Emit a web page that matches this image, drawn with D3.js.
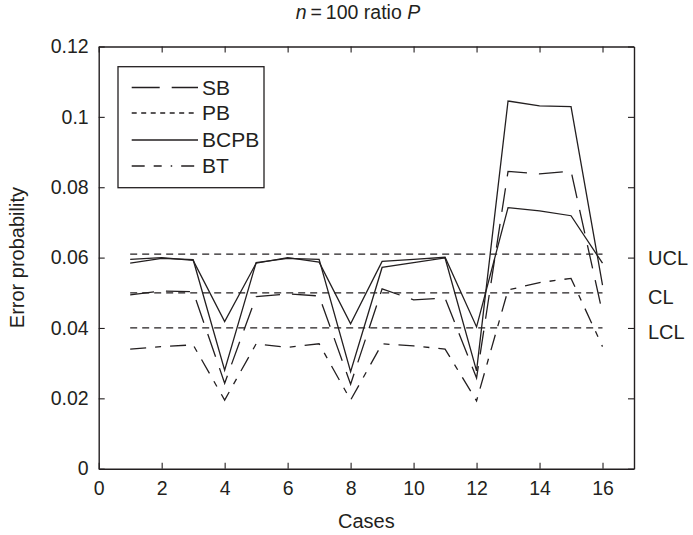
<!DOCTYPE html>
<html>
<head>
<meta charset="utf-8">
<script src="https://cdn.jsdelivr.net/npm/d3@7"></script>
<style>
  body { margin: 0; background: #fff; }
  text { font-family: "Liberation Sans", Arial, sans-serif; fill: #231f20; }
</style>
</head>
<body>
<div id="chart"></div>
<script>
// data
var cases = [1, 2, 3, 4, 5, 6, 7, 8, 9, 10, 11, 12, 13, 14, 15, 16];
var sb   = [0.0494, 0.0505, 0.0503, 0.0243, 0.0489, 0.0497, 0.0491, 0.0240, 0.0511, 0.0480, 0.0485, 0.0258, 0.0845, 0.0838, 0.0846, 0.0442];
var pb   = [0.0595, 0.0600, 0.0592, 0.0418, 0.0584, 0.0600, 0.0587, 0.0412, 0.0589, 0.0595, 0.0601, 0.0403, 0.0742, 0.0733, 0.0719, 0.0584];
var bcpb = [0.0584, 0.0598, 0.0594, 0.0280, 0.0586, 0.0598, 0.0595, 0.0276, 0.0572, 0.0586, 0.0599, 0.0278, 0.1045, 0.1031, 0.1029, 0.0522];
var bt   = [0.0340, 0.0347, 0.0352, 0.0195, 0.0355, 0.0345, 0.0355, 0.0195, 0.0355, 0.0349, 0.0340, 0.0193, 0.0508, 0.0529, 0.0541, 0.0347];
var seriesNames = ["SB", "PB", "BCPB", "BT"];
var limitNames = ["UCL", "CL", "LCL"];
var limitValues = [0.061, 0.05, 0.04];
var xTicks = [0, 2, 4, 6, 8, 10, 12, 14, 16];
var yTicks = [0, 0.02, 0.04, 0.06, 0.08, 0.1, 0.12];

var W = 693, H = 535;
var mLeft = 98.7, mRight = 634, mTop = 46.5, mBottom = 468.7;
var ink = "#231f20";

var svg = d3.select("#chart").append("svg")
  .attr("width", W)
  .attr("height", H);

var x = d3.scaleLinear().domain([0, 17]).range([mLeft, mRight]);
var y = d3.scaleLinear().domain([0, 0.12]).range([mBottom, mTop]);

// dash styles (PB is drawn solid in the plot, dashed in the legend - as in the figure)
var plotDash = { SB: "24,12", PB: null, BCPB: null, BT: "16,9,6,9" };
var legendDash = { SB: "28,12", PB: "5,4.5", BCPB: null, BT: "13,9,8,9,1.5,9" };
var values = { SB: sb, PB: pb, BCPB: bcpb, BT: bt };

// axes, ticks inward
var fmt = function(d) { return d === 0 ? "0" : String(+d.toFixed(2)); };
function styleAxis(g) {
  g.select(".domain").attr("stroke", ink).attr("stroke-width", 1.4);
  g.selectAll(".tick line").attr("stroke", ink).attr("stroke-width", 1.1);
  g.selectAll(".tick text").attr("font-size", 19.5).attr("fill", ink)
    .attr("font-family", "Liberation Sans, Arial, sans-serif");
}
svg.append("g")
  .attr("transform", "translate(0," + mBottom + ")")
  .call(d3.axisBottom(x).tickValues(xTicks).tickSizeInner(-6).tickSizeOuter(0).tickPadding(12).tickFormat(fmt))
  .call(styleAxis);
svg.append("g")
  .attr("transform", "translate(0," + mTop + ")")
  .call(d3.axisTop(x).tickValues(xTicks).tickSizeInner(-6).tickSizeOuter(0).tickFormat(""))
  .call(styleAxis);
svg.append("g")
  .attr("transform", "translate(" + mLeft + ",0)")
  .call(d3.axisLeft(y).tickValues(yTicks).tickSizeInner(-6).tickSizeOuter(0).tickPadding(10).tickFormat(fmt))
  .call(styleAxis);
svg.append("g")
  .attr("transform", "translate(" + mRight + ",0)")
  .call(d3.axisRight(y).tickValues(yTicks).tickSizeInner(-6).tickSizeOuter(0).tickFormat(""))
  .call(styleAxis);

// control limits
svg.selectAll(".limit")
  .data(limitValues)
  .enter().append("line")
  .attr("class", "limit")
  .attr("x1", x(cases[0]))
  .attr("x2", x(cases[cases.length - 1]))
  .attr("y1", function(d) { return y(d); })
  .attr("y2", function(d) { return y(d); })
  .attr("stroke", ink)
  .attr("stroke-width", 1.2)
  .attr("stroke-dasharray", "7,5");

svg.selectAll(".limitLabel")
  .data(limitValues)
  .enter().append("text")
  .attr("x", 648)
  .attr("y", function(d) { return y(d) + 4; })
  .attr("dy", "0.35em")
  .attr("font-size", 20)
  .text(function(d, i) { return limitNames[i]; });

// series lines
var line = d3.line()
  .x(function(d, i) { return x(cases[i]); })
  .y(function(d) { return y(d); });

svg.selectAll(".series")
  .data(seriesNames)
  .enter().append("path")
  .attr("class", "series")
  .attr("d", function(name) { return line(values[name]); })
  .attr("fill", "none")
  .attr("stroke", ink)
  .attr("stroke-width", 1.3)
  .attr("stroke-dasharray", function(name) { return plotDash[name]; });

// legend
var legend = svg.append("g");
legend.append("rect")
  .attr("x", 118).attr("y", 66.7)
  .attr("width", 146).attr("height", 121)
  .attr("fill", "#fff")
  .attr("stroke", ink)
  .attr("stroke-width", 1.3);
var rowY = [87.5, 113, 140, 166];
seriesNames.forEach(function(name, i) {
  legend.append("line")
    .attr("x1", 131.7).attr("x2", 198)
    .attr("y1", rowY[i]).attr("y2", rowY[i])
    .attr("stroke", ink)
    .attr("stroke-width", 1.3)
    .attr("stroke-dasharray", legendDash[name]);
  legend.append("text")
    .attr("x", 202)
    .attr("y", rowY[i])
    .attr("dy", "0.35em")
    .attr("font-size", 21)
    .text(name);
});

// titles
var title = svg.append("text")
  .attr("x", 358)
  .attr("y", 19)
  .attr("text-anchor", "middle")
  .attr("font-size", 19.5);
title.append("tspan").attr("font-style", "italic").text("n");
title.append("tspan").text("\u2009=\u2009100 ratio ");
title.append("tspan").attr("font-style", "italic").text("P");

svg.append("text")
  .attr("x", (mLeft + mRight) / 2)
  .attr("y", 528)
  .attr("text-anchor", "middle")
  .attr("font-size", 20)
  .text("Cases");

svg.append("text")
  .attr("transform", "translate(24," + ((mTop + mBottom) / 2) + ") rotate(-90)")
  .attr("text-anchor", "middle")
  .attr("font-size", 20)
  .text("Error probability");
</script>
</body>
</html>
